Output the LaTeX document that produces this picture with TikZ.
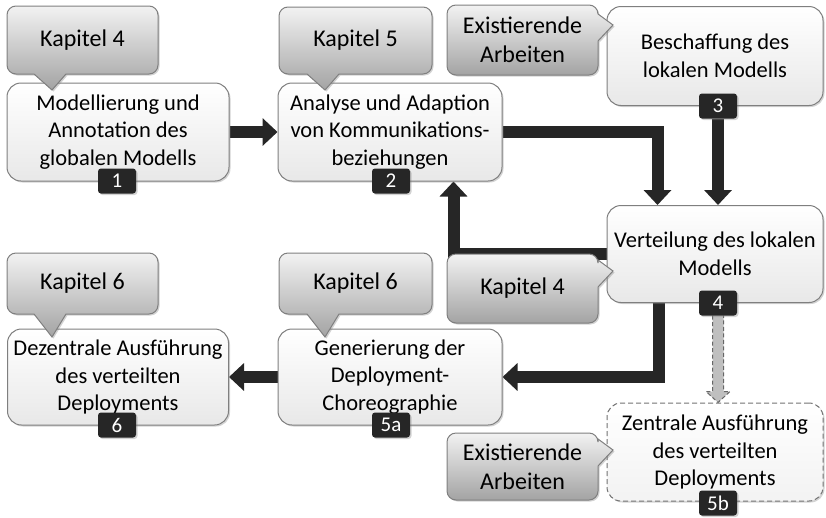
\documentclass[tikz,border=0pt]{standalone}
\usepackage{fontspec}
\setmainfont{Carlito}
\usetikzlibrary{arrows.meta,calc,shadows}

\definecolor{ink}{HTML}{262626}
\definecolor{rim}{HTML}{7F7F7F}

\pgfdeclarelayer{background}
\pgfsetlayers{background,main}

\tikzset{
  stepbox/.style={rectangle, rounded corners=14pt, draw=rim, line width=1pt,
    top color=white, bottom color=white!91!black, align=center,
    font=\fontsize{22.5}{27.5}\selectfont, inner sep=2pt,
    drop shadow={shadow xshift=1.5pt, shadow yshift=-1.5pt, opacity=.35}},
  optbox/.style={stepbox, dashed, dash pattern=on 5pt off 3pt, draw=rim!90!black,
    top color=white, bottom color=white!95!black},
  badge/.style={rectangle, rounded corners=3pt, fill=ink, text=white,
    minimum width=38pt, minimum height=25pt, inner sep=0pt,
    font=\fontsize{21}{21}\selectfont,
    drop shadow={shadow xshift=1.5pt, shadow yshift=-1.5pt, opacity=.35}},
  bubble/.style={draw=rim, line width=1pt,
    top color=white!95!black, bottom color=white!64!black,
    drop shadow={shadow xshift=1.5pt, shadow yshift=-1.5pt, opacity=.35}},
  bubbletext/.style={align=center, inner sep=0pt,
    font=\fontsize{24}{29}\selectfont},
  flow/.style={draw=ink, line width=12pt,
    -{Triangle[width=27pt,length=15pt]}},
  dasharrow/.style={draw=rim!80!black, fill=white!75!black, line width=1pt,
    dash pattern=on 4pt off 2.5pt},
}

% callout bubble whose pointer points downwards
% #1 name, #2 left, #3 top, #4 right, #5 bottom, #6 tip x, #7 tip y, #8 text
\newcommand{\bubbledown}[8]{%
  \path[bubble] (#6+14,#5) [rounded corners=9pt] -- (#4,#5) -- (#4,#3)
    -- (#2,#3) -- (#2,#5) [sharp corners] -- (#6-18,#5) -- (#6,#7) -- cycle;
  \node[bubbletext] (#1) at ({(#2+#4)/2},{(#3+#5)/2}) {#8};}

% callout bubble whose pointer points to the right
\newcommand{\bubbleright}[8]{%
  \path[bubble] (#4,#7+16) [rounded corners=9pt] -- (#4,#5) -- (#2,#5)
    -- (#2,#3) -- (#4,#3) [sharp corners] -- (#4,#7-11) -- (#6,#7) -- cycle;
  \node[bubbletext] (#1) at ({(#2+#4)/2},{(#3+#5)/2}) {#8};}

\begin{document}
\begin{tikzpicture}[x=1pt,y=-1pt]
\useasboundingbox (0,0) rectangle (826,517);

% process steps
\node[stepbox, minimum width=222pt, minimum height=98pt] (b1) at (118,132)
  {Modellierung und\\Annotation des\\globalen Modells};
\node[stepbox, minimum width=224pt, minimum height=98pt] (b2) at (390,132)
  {Analyse und Adaption\\von Kommunikations-\\beziehungen};
\node[stepbox, minimum width=216pt, minimum height=99pt] (b3) at (715,56)
  {Beschaffung des\\lokalen Modells};
\node[stepbox, minimum width=216pt, minimum height=97pt] (b4) at (715,254)
  {Verteilung des lokalen\\Modells};
\node[stepbox, minimum width=224pt, minimum height=96pt] (b5a) at (390,377)
  {Generierung der\\Deployment-\\Choreographie};
\node[stepbox, minimum width=221pt, minimum height=96pt] (b6) at (118,377)
  {Dezentrale Ausführung\\des verteilten\\Deployments};
\node[optbox, minimum width=216pt, minimum height=98pt] (b5b) at (715,452)
  {Zentrale Ausführung\\des verteilten\\Deployments};

% step numbers
\node[badge] (bd1) at (117,181) {1};
\node[badge] (bd2) at (391,181) {2};
\node[badge] (bd3) at (718,106) {3};
\node[badge] (bd4) at (718,303) {4};
\node[badge] (bd5a) at (391,425) {5a};
\node[badge] (bd6) at (117,425) {6};
\node[badge] (bd5b) at (718,503) {5b};

% chapter references
\bubbledown{c1}{7}{6}{158}{74}{52}{90}{Kapitel 4}
\bubbledown{c2}{279}{7}{432}{74}{325}{90}{Kapitel 5}
\bubbledown{c6}{7}{253}{158}{314}{52}{337}{Kapitel 6}
\bubbledown{c5a}{279}{253}{432}{314}{325}{337}{Kapitel 6}
\bubbleright{c3}{447}{5}{598}{75}{613}{25}{Existierende\\Arbeiten}
\bubbleright{c4}{447}{254}{598}{323}{613}{271}{Kapitel 4}
\bubbleright{c5b}{447}{433}{598}{500}{613}{450}{Existierende\\Arbeiten}

% control flow
\begin{pgfonlayer}{background}
\draw[flow] (b1.east) -- (b2.west);
\draw[flow] (b2.east) -| ([xshift=51pt]b4.north west);
\draw[flow] (bd3.south) -- (bd3.south |- b4.north);
\draw[flow] (b4.west) -| ([xshift=176pt]b2.south west);
\draw[flow] ([xshift=52pt]b4.south west) |- (b5a.east);
\draw[flow] (b5a.west) -- (b6.east);
\coordinate (t5b) at (bd4.south |- b5b.north);
\draw[dasharrow] ($(bd4.south)+(-5.5,0)$) -- ($(t5b)+(-5.5,-11)$)
  -- ($(t5b)+(-12,-11)$) -- (t5b) -- ($(t5b)+(12,-11)$)
  -- ($(t5b)+(5.5,-11)$) -- ($(bd4.south)+(5.5,0)$);
\end{pgfonlayer}
\end{tikzpicture}
\end{document}
